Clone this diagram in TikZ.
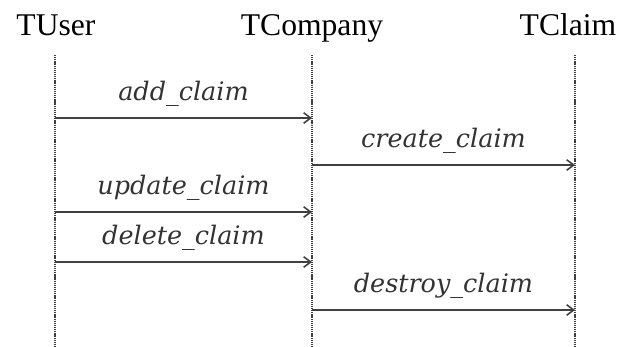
\documentclass[tikz,border=0pt]{standalone}
\usepackage{fontspec}
\usetikzlibrary{arrows.meta}
\setmainfont{Liberation Serif}
\newfontfamily\msgfont{DejaVu Serif}
\begin{document}
\begin{tikzpicture}[x=0.02cm,y=-0.02cm]
	\tikzstyle{actor}=[font=\fontsize{18}{20}\selectfont,inner sep=0pt,anchor=base]
	\tikzstyle{lifeline}=[draw=black!75,line width=1.4pt,dash pattern=on 0.7pt off 0.5pt]
	\tikzstyle{msg}=[draw=black!75,line width=0.9pt,-{Straight Barb[length=4pt,width=6pt]}]
	\tikzstyle{label}=[font=\msgfont\itshape\fontsize{14.5}{16}\selectfont,text=black!80,above=6pt,inner sep=0pt]
	\useasboundingbox (0,0) rectangle (620,346);
	% actors
	\node [actor] (user) at (56,35) {TUser};
	\node [actor] (company) at (312,35) {TCompany};
	\node [actor] (claim) at (568,35) {TClaim};
	% lifelines
	\coordinate (ut) at (55,55);   \coordinate (ub) at (55,346);
	\coordinate (ct) at (312,55);  \coordinate (cb) at (312,346);
	\coordinate (lt) at (575,55);  \coordinate (lb) at (575,346);
	\path[lifeline] (ut) -- (ub);
	\path[lifeline] (ct) -- (cb);
	\path[lifeline] (lt) -- (lb);
	% message ends
	\coordinate (u1) at (55,118);  \coordinate (c1) at (312,118);
	\coordinate (c2) at (312,165); \coordinate (l2) at (575,165);
	\coordinate (u3) at (55,212);  \coordinate (c3) at (312,212);
	\coordinate (u4) at (55,262);  \coordinate (c4) at (312,262);
	\coordinate (c5) at (312,310); \coordinate (l5) at (575,310);
	% messages
	\path[msg] (u1) -- node[label] {add\_claim} (c1);
	\path[msg] (c2) -- node[label] {create\_claim} (l2);
	\path[msg] (u3) -- node[label] {update\_claim} (c3);
	\path[msg] (u4) -- node[label] {delete\_claim} (c4);
	\path[msg] (c5) -- node[label] {destroy\_claim} (l5);
\end{tikzpicture}
\end{document}
